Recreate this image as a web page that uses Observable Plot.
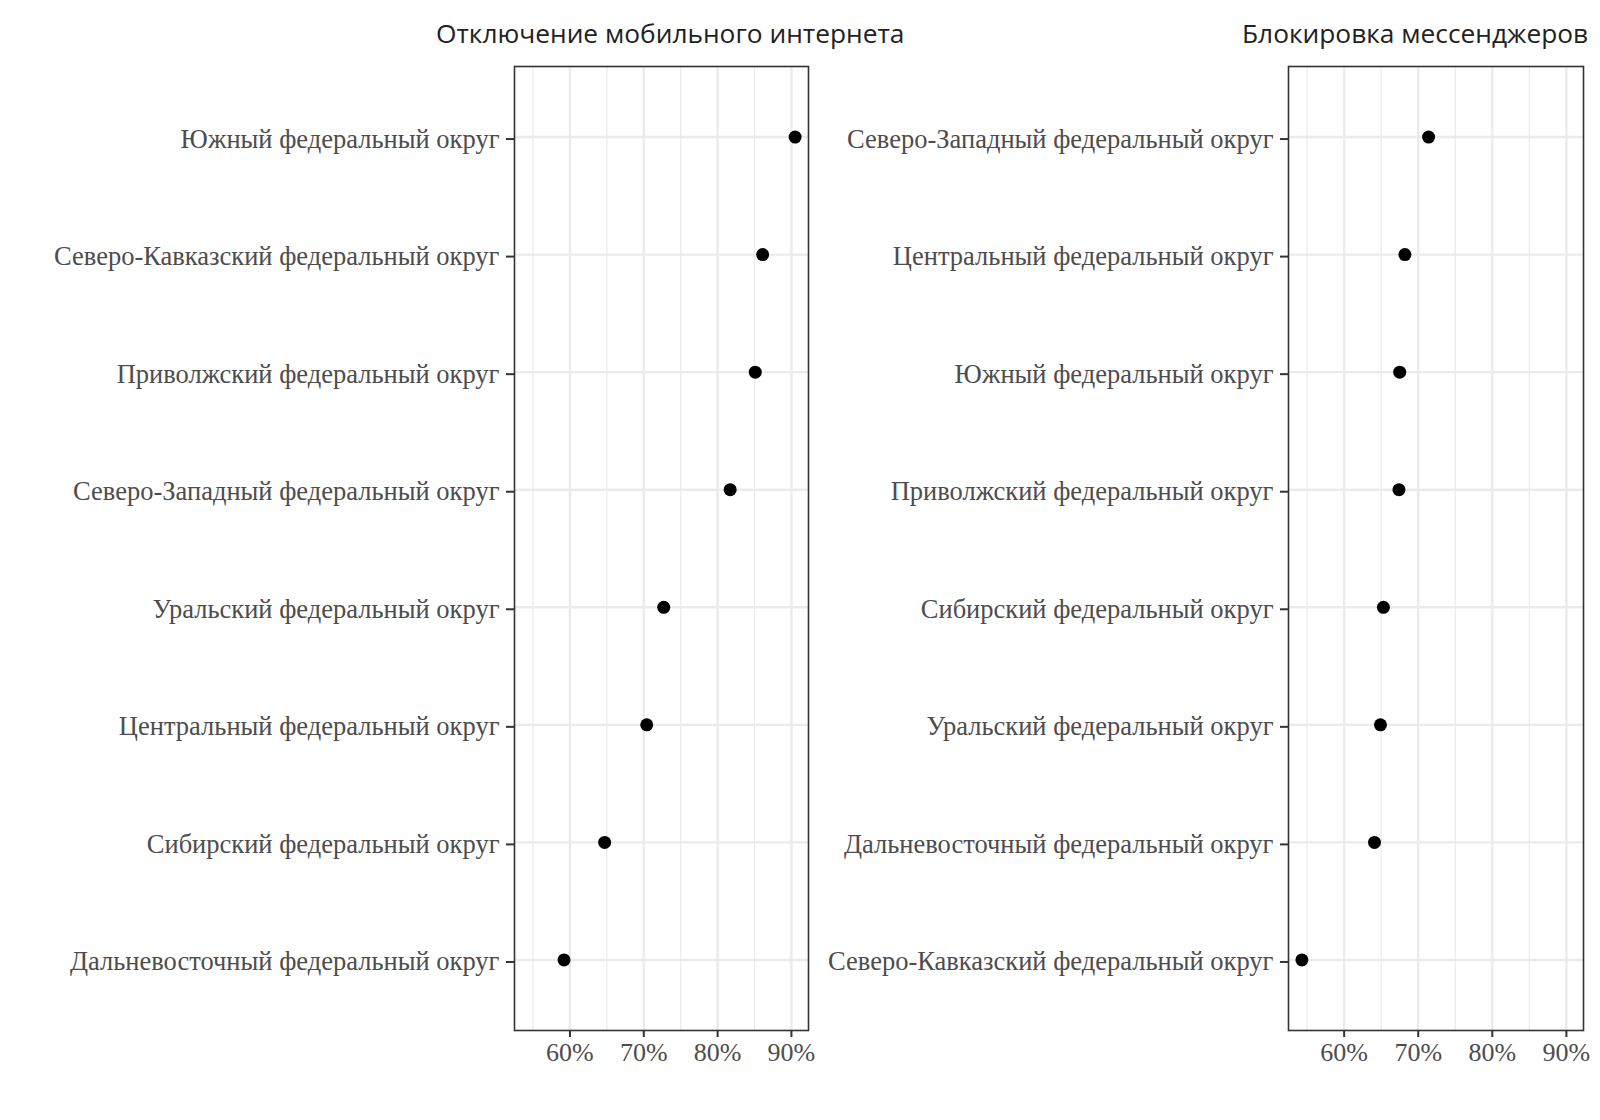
<!DOCTYPE html>
<html>
<head>
<meta charset="utf-8">
<script src="https://cdn.jsdelivr.net/npm/d3@7"></script>
<script src="https://cdn.jsdelivr.net/npm/@observablehq/plot@0.6"></script>
<style>
  html, body { margin: 0; padding: 0; background: #fff; }
  #wrap { position: relative; width: 1600px; height: 1120px; overflow: hidden; background: #fff; }
  .title { position: absolute; font-family: "Open Sans", sans-serif; font-size: 26.3px; color: #222; white-space: nowrap; line-height: 1; }
  .panel { position: absolute; top: 47px; }
</style>
</head>
<body>
<div id="wrap">
  <div class="title" id="t1" style="left:436px; top:20px;"></div>
  <div class="title" id="t2" style="left:1242px; top:20px;"></div>
  <div class="panel" id="p1" style="left:0px;"></div>
  <div class="panel" id="p2" style="left:820px;"></div>
</div>
<script>
// Panel titles
const titles = ["Отключение мобильного интернета", "Блокировка мессенджеров"];

// Panel 1: mobile internet shutdown (share)
const regions1 = [
  "Южный федеральный округ",
  "Северо-Кавказский федеральный округ",
  "Приволжский федеральный округ",
  "Северо-Западный федеральный округ",
  "Уральский федеральный округ",
  "Центральный федеральный округ",
  "Сибирский федеральный округ",
  "Дальневосточный федеральный округ"
];
const values1 = [0.905, 0.861, 0.851, 0.817, 0.727, 0.704, 0.647, 0.592];

// Panel 2: messenger blocking (share)
const regions2 = [
  "Северо-Западный федеральный округ",
  "Центральный федеральный округ",
  "Южный федеральный округ",
  "Приволжский федеральный округ",
  "Сибирский федеральный округ",
  "Уральский федеральный округ",
  "Дальневосточный федеральный округ",
  "Северо-Кавказский федеральный округ"
];
const values2 = [0.714, 0.682, 0.675, 0.674, 0.653, 0.649, 0.641, 0.543];

// Axis ticks
const majorTicks = [0.6, 0.7, 0.8, 0.9];
const minorTicks = [0.55, 0.65, 0.75, 0.85];
const tickLabels = ["60%", "70%", "80%", "90%"];

document.getElementById("t1").textContent = titles[0];
document.getElementById("t2").textContent = titles[1];

// Shared x domain with 5% expansion (ggplot-like)
const all = values1.concat(values2);
const lo = d3.min(all), hi = d3.max(all), r = hi - lo;
const xDomain = [lo - 0.05 * r, hi + 0.05 * r];

const serif = "Liberation Serif, Times New Roman, serif";

function panel(regions, values, width, ml, mr) {
  const data = regions.map((name, i) => ({name, value: values[i]}));
  return Plot.plot({
    width,
    height: 1040,
    marginLeft: ml,
    marginRight: mr,
    marginTop: 19,
    marginBottom: 57,
    style: {background: "transparent", overflow: "visible"},
    x: {domain: xDomain},
    y: {type: "point", domain: regions, padding: 0.6, round: false},
    marks: [
      Plot.ruleX(minorTicks, {stroke: "#ebebeb", strokeWidth: 1.2}),
      Plot.ruleX(majorTicks, {stroke: "#ebebeb", strokeWidth: 2.4}),
      Plot.ruleY(regions, {y: d => d, stroke: "#ebebeb", strokeWidth: 2.4}),
      Plot.dot(data, {x: "value", y: "name", r: 6.5, fill: "black", stroke: null}),
      Plot.frame({stroke: "#333333", strokeWidth: 1.6}),
      Plot.axisY({tickSize: 8, tickPadding: 7, stroke: "#333333", strokeWidth: 2, fill: "#4d4d4d",
        fontSize: 26.5, fontFamily: serif, label: null, dy: 2}),
      Plot.axisX({ticks: majorTicks, tickSize: 7, tickPadding: 5, stroke: "#333333", strokeWidth: 2, fill: "#4d4d4d",
        fontSize: 26, fontFamily: serif, label: null,
        tickFormat: d => tickLabels[majorTicks.indexOf(d)]})
    ]
  });
}

document.getElementById("p1").appendChild(panel(regions1, values1, 820, 514, 12));
document.getElementById("p2").appendChild(panel(regions2, values2, 780, 468, 17));
</script>
</body>
</html>
